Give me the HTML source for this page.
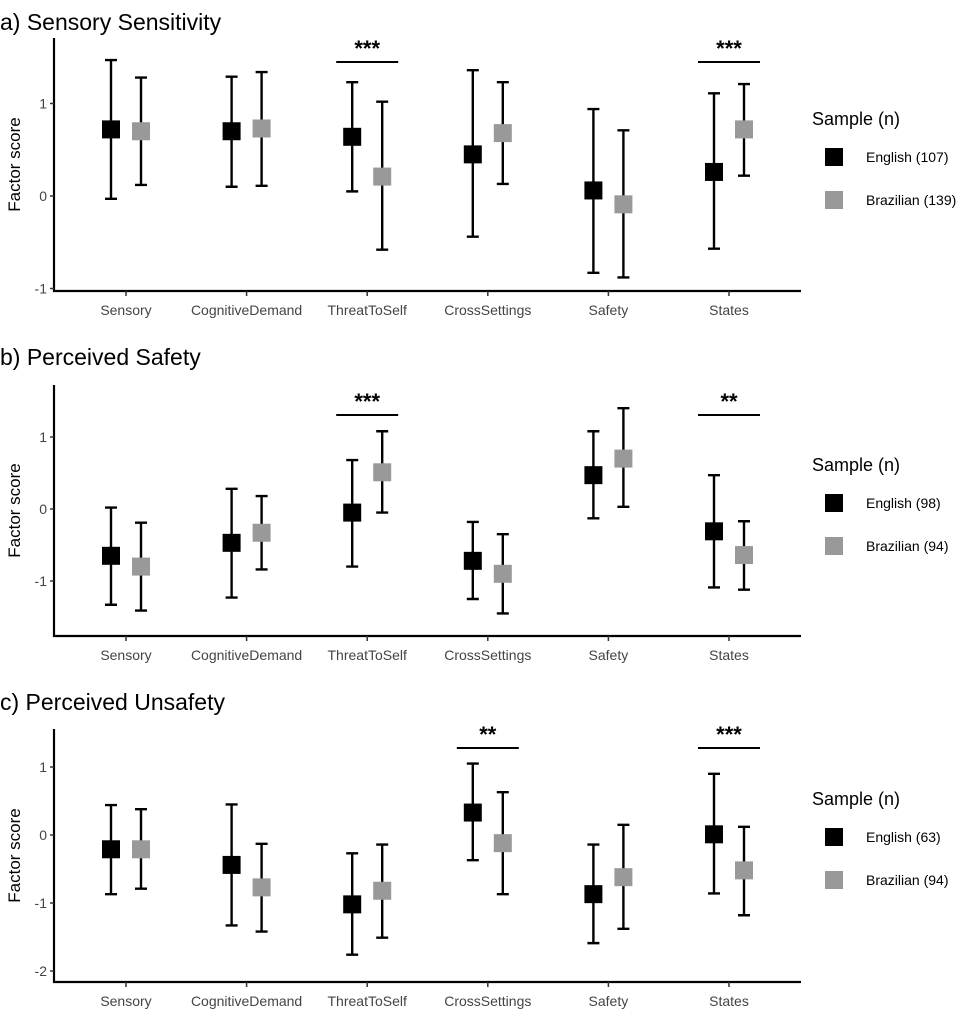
<!DOCTYPE html>
<html><head><meta charset="utf-8"><style>
body{margin:0;background:#fff;}
svg{display:block;font-family:"Liberation Sans",Arial,sans-serif;}
</style></head><body>
<svg id="chart" width="967" height="1012" viewBox="0 0 967 1012"></svg>
<script>
const categories=["Sensory","CognitiveDemand","ThreatToSelf","CrossSettings","Safety","States"];
const titles=["Sensory Sensitivity","Perceived Safety","Perceived Unsafety"];
const letters=["a)","b)","c)"];
const engMeanA=[0.72,0.70,0.64,0.45,0.06,0.26];
const engLoA=[-0.03,0.10,0.05,-0.44,-0.83,-0.57];
const engHiA=[1.47,1.29,1.23,1.36,0.94,1.11];
const braMeanA=[0.70,0.73,0.21,0.68,-0.09,0.72];
const braLoA=[0.12,0.11,-0.58,0.13,-0.88,0.22];
const braHiA=[1.28,1.34,1.02,1.23,0.71,1.21];
const engMeanB=[-0.65,-0.47,-0.05,-0.72,0.47,-0.31];
const engLoB=[-1.33,-1.23,-0.80,-1.25,-0.13,-1.09];
const engHiB=[0.02,0.28,0.68,-0.18,1.08,0.47];
const braMeanB=[-0.80,-0.33,0.51,-0.90,0.70,-0.64];
const braLoB=[-1.41,-0.84,-0.05,-1.45,0.03,-1.12];
const braHiB=[-0.19,0.18,1.08,-0.35,1.40,-0.17];
const engMeanC=[-0.21,-0.44,-1.02,0.33,-0.87,0.01];
const engLoC=[-0.87,-1.33,-1.76,-0.37,-1.59,-0.86];
const engHiC=[0.44,0.45,-0.27,1.05,-0.14,0.90];
const braMeanC=[-0.21,-0.77,-0.82,-0.12,-0.62,-0.52];
const braLoC=[-0.79,-1.42,-1.51,-0.87,-1.38,-1.18];
const braHiC=[0.38,-0.13,-0.14,0.63,0.15,0.12];
const sigA=["","","***","","","***"];
const sigB=["","","***","","","**"];
const sigC=["","","","**","","***"];
const ticksA=[-1,0,1];
const ticksB=[-1,0,1];
const ticksC=[-2,-1,0,1];
const legendA=["English (107)","Brazilian (139)"];
const legendB=["English (98)","Brazilian (94)"];
const legendC=["English (63)","Brazilian (94)"];

const NS="http://www.w3.org/2000/svg";
const svg=document.getElementById('chart');
function mk(tag,attrs,parent,text){const e=document.createElementNS(NS,tag);for(const k in attrs)e.setAttribute(k,attrs[k]);if(text!==undefined)e.textContent=text;(parent||svg).appendChild(e);return e;}

const panels=[
 {top:38,axisY:291,y0:196,ppu:92.5,titleY:30,eng:[engMeanA,engLoA,engHiA],bra:[braMeanA,braLoA,braHiA],sig:sigA,sigY:62,ticks:ticksA,leg:legendA,legY:117},
 {top:385,axisY:636,y0:509,ppu:72,titleY:365,eng:[engMeanB,engLoB,engHiB],bra:[braMeanB,braLoB,braHiB],sig:sigB,sigY:415,ticks:ticksB,leg:legendB,legY:463},
 {top:729,axisY:982,y0:835,ppu:68,titleY:710,eng:[engMeanC,engLoC,engHiC],bra:[braMeanC,braLoC,braHiC],sig:sigC,sigY:748,ticks:ticksC,leg:legendC,legY:797}
];
const xL=54,xR=801;
function xPos(i){return 126+i*120.6;}

panels.forEach((p,pi)=>{
 const g=mk('g',{});
 
 
 const yS=v=>p.y0-v*p.ppu;
 const t=mk('text',{x:0,y:p.titleY,'font-size':23,fill:'#000'},g,letters[pi]+" "+titles[pi]);
 
 
 const ax=mk('path',{d:`M${xL},${p.top}V${p.axisY}H${xR}`,fill:'none',stroke:'#000','stroke-width':2.2},g);
 
 
 const yl=mk('text',{transform:`translate(20,${(p.top+p.axisY)/2}) rotate(-90)`,'text-anchor':'middle','font-size':17,fill:'#000'},g,"Factor score");
 
 
 p.ticks.forEach(v=>{
  mk('line',{x1:xL-4,x2:xL,y1:yS(v),y2:yS(v),stroke:'#333','stroke-width':1.5},g);
  const tl=mk('text',{x:xL-7,y:yS(v)+5,'text-anchor':'end','font-size':14,fill:'#444'},g,String(v));
  
  
 });
 categories.forEach((c,i)=>{
  const x=xPos(i);
  mk('line',{x1:x,x2:x,y1:p.axisY,y2:p.axisY+5,stroke:'#333','stroke-width':1.5},g);
  const cl=mk('text',{x:x,y:p.axisY+24,'text-anchor':'middle','font-size':14,fill:'#444'},g,c);
  
  
  [[p.eng,-15,'#000'],[p.bra,15,'#999']].forEach(([s,off,col])=>{
   const cx=x+off;
   const eb=mk('path',{d:`M${cx-6},${yS(s[2][i])}H${cx+6}M${cx},${yS(s[2][i])}V${yS(s[1][i])}M${cx-6},${yS(s[1][i])}H${cx+6}`,stroke:'#000','stroke-width':2.4,fill:'none'},g);
   
   
   const r=mk('rect',{x:cx-9,y:yS(s[0][i])-9,width:18,height:18,fill:col},g);
   
   
  });
  if(p.sig[i]){
   mk('line',{x1:x-31,x2:x+31,y1:p.sigY,y2:p.sigY,stroke:'#000','stroke-width':2},g);
   const st=mk('text',{x:x,y:p.sigY-6,'text-anchor':'middle','font-size':22,'font-weight':'bold',fill:'#000'},g,p.sig[i]);
   
   
  }
 });
 const lt=mk('text',{x:812,y:p.legY+8,'font-size':18,fill:'#000'},g,"Sample (n)");
 
 
 p.leg.forEach((l,k)=>{
  const yy=p.legY+31+k*43;
  const lr=mk('rect',{x:825,y:yy,width:18,height:18,fill:k?'#999':'#000'},g);
  
  
  const lx=mk('text',{x:866,y:yy+14,'font-size':14,fill:'#000'},g,l);
  
  
 });
});
</script>
</body></html>
